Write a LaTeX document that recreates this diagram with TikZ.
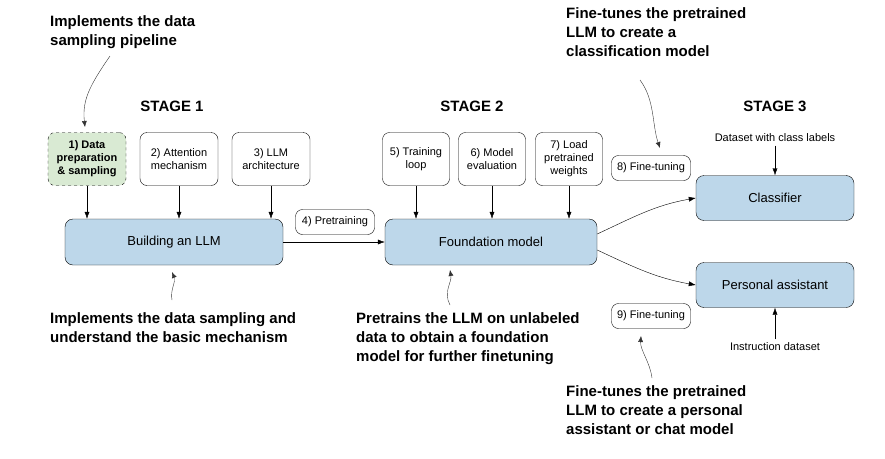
\documentclass[tikz,border=0pt]{standalone}
\usepackage{fontspec}
\setmainfont{Liberation Sans}
\usetikzlibrary{positioning,arrows.meta}
\definecolor{boxblue}{HTML}{BDD7EA}
\definecolor{boxgreen}{HTML}{D9EAD3}
\tikzset{
    stepbox/.style={draw, rounded corners=7pt, align=center, font=\fontsize{11}{13}\selectfont, minimum width=78pt, minimum height=53pt, inner sep=1pt},
    bigbox/.style={draw, rounded corners=8pt, fill=boxblue, font=\fontsize{13}{15}\selectfont, minimum height=46pt},
    tag/.style={draw, rounded corners=7pt, font=\fontsize{11}{13}\selectfont, minimum width=79pt, minimum height=25pt, inner sep=1pt},
    note/.style={align=left, anchor=north west, font=\bfseries\fontsize{15}{19}\selectfont, inner sep=0pt},
    stage/.style={font=\bfseries\fontsize{15}{17}\selectfont},
    arr/.style={-{Latex[length=7pt,width=5pt]}},
    thin arr/.style={-{Latex[length=6pt,width=5pt]}, thin, black!80}
}
\begin{document}
\begin{tikzpicture}[x=1pt, y=-1pt]
    \useasboundingbox (0,0) rectangle (885,458);

    \node [stage] (stage1) at (172,106) {STAGE 1};
    \node [stage] (stage2) at (472,106) {STAGE 2};
    \node [stage] (stage3) at (775,106) {STAGE 3};

    \node [stepbox, dashed, fill=boxgreen, font=\bfseries\fontsize{11}{13}\selectfont] (prep) at (87,159) {1) Data\\preparation\\\& sampling};
    \node [stepbox] (attn) at (179,159) {2) Attention\\mechanism};
    \node [stepbox] (arch) at (271,159) {3) LLM\\architecture};
    \node [stepbox, minimum width=67pt] (loop) at (416,159) {5) Training\\loop};
    \node [stepbox, minimum width=67pt] (eval) at (492,159) {6) Model\\evaluation};
    \node [stepbox, minimum width=67pt] (load) at (569,159) {7) Load\\pretrained\\weights};

    \node [bigbox, minimum width=218pt] (build) at (174,242) {Building an LLM};
    \node [bigbox, minimum width=212pt] (found) at (491,242) {Foundation model};
    \node [bigbox, minimum width=158pt, minimum height=45pt] (clf) at (775,198) {Classifier};
    \node [bigbox, minimum width=158pt, minimum height=45pt] (pa) at (775,285) {Personal assistant};

    \node [tag] (pretrain) at (335,222) {4) Pretraining};
    \node [tag] (ft1) at (651,168) {8) Fine-tuning};
    \node [tag] (ft2) at (651,316) {9) Fine-tuning};

    \node [font=\fontsize{11}{13}\selectfont] (clsdata) at (775,138) {Dataset with class labels};
    \node [font=\fontsize{11}{13}\selectfont] (instdata) at (775,347) {Instruction dataset};

    \draw[arr] (prep) -- (prep |- build.north);
    \draw[arr] (attn) -- (attn |- build.north);
    \draw[arr] (arch) -- (arch |- build.north);
    \draw[arr] (loop) -- (loop |- found.north);
    \draw[arr] (eval) -- (eval |- found.north);
    \draw[arr] (load) -- (load |- found.north);
    \draw[arr] (build.east) -- (found.west);
    \draw[arr] (found.east) ++(0,-8) coordinate (fu) (fu) to[out=25, in=190] (clf.west);
    \draw[arr] (found.east) ++(0,8) coordinate (fd) (fd) to[out=-25, in=170] (pa.west);
    \draw[arr] (clsdata) -- (clf);
    \draw[arr] (instdata) -- (pa);

    % annotations
    \node [note] (note1) at (50,15) {Implements the data\\sampling pipeline};
    \node [note] (note2) at (50,312) {Implements the data sampling and\\understand the basic mechanism};
    \node [note] (note3) at (356,312) {Pretrains the LLM on unlabeled\\data to obtain a foundation\\model for further finetuning};
    \node [note] (note4) at (566,7) {Fine-tunes the pretrained\\LLM to create a\\classification model};
    \node [note] (note5) at (566,385) {Fine-tunes the pretrained\\LLM to create a personal\\assistant or chat model};

    \coordinate (c1) at (110,56);
    \coordinate (c2) at (172,300);
    \coordinate (c3) at (450,305);
    \coordinate (c4) at (640,80);
    \coordinate (c5) at (652,378);
    \draw[thin arr] (c1) .. controls (90,85) and (82,100) .. (85,127);
    \draw[thin arr] (c2) .. controls (170,290) and (176,282) .. (172,272);
    \draw[thin arr] (c3) .. controls (443,292) and (452,282) .. (450,270);
    \draw[thin arr] (c4) .. controls (655,100) and (652,125) .. (660,148);
    \draw[thin arr] (c5) .. controls (650,362) and (640,350) .. (641,336);
\end{tikzpicture}
\end{document}
